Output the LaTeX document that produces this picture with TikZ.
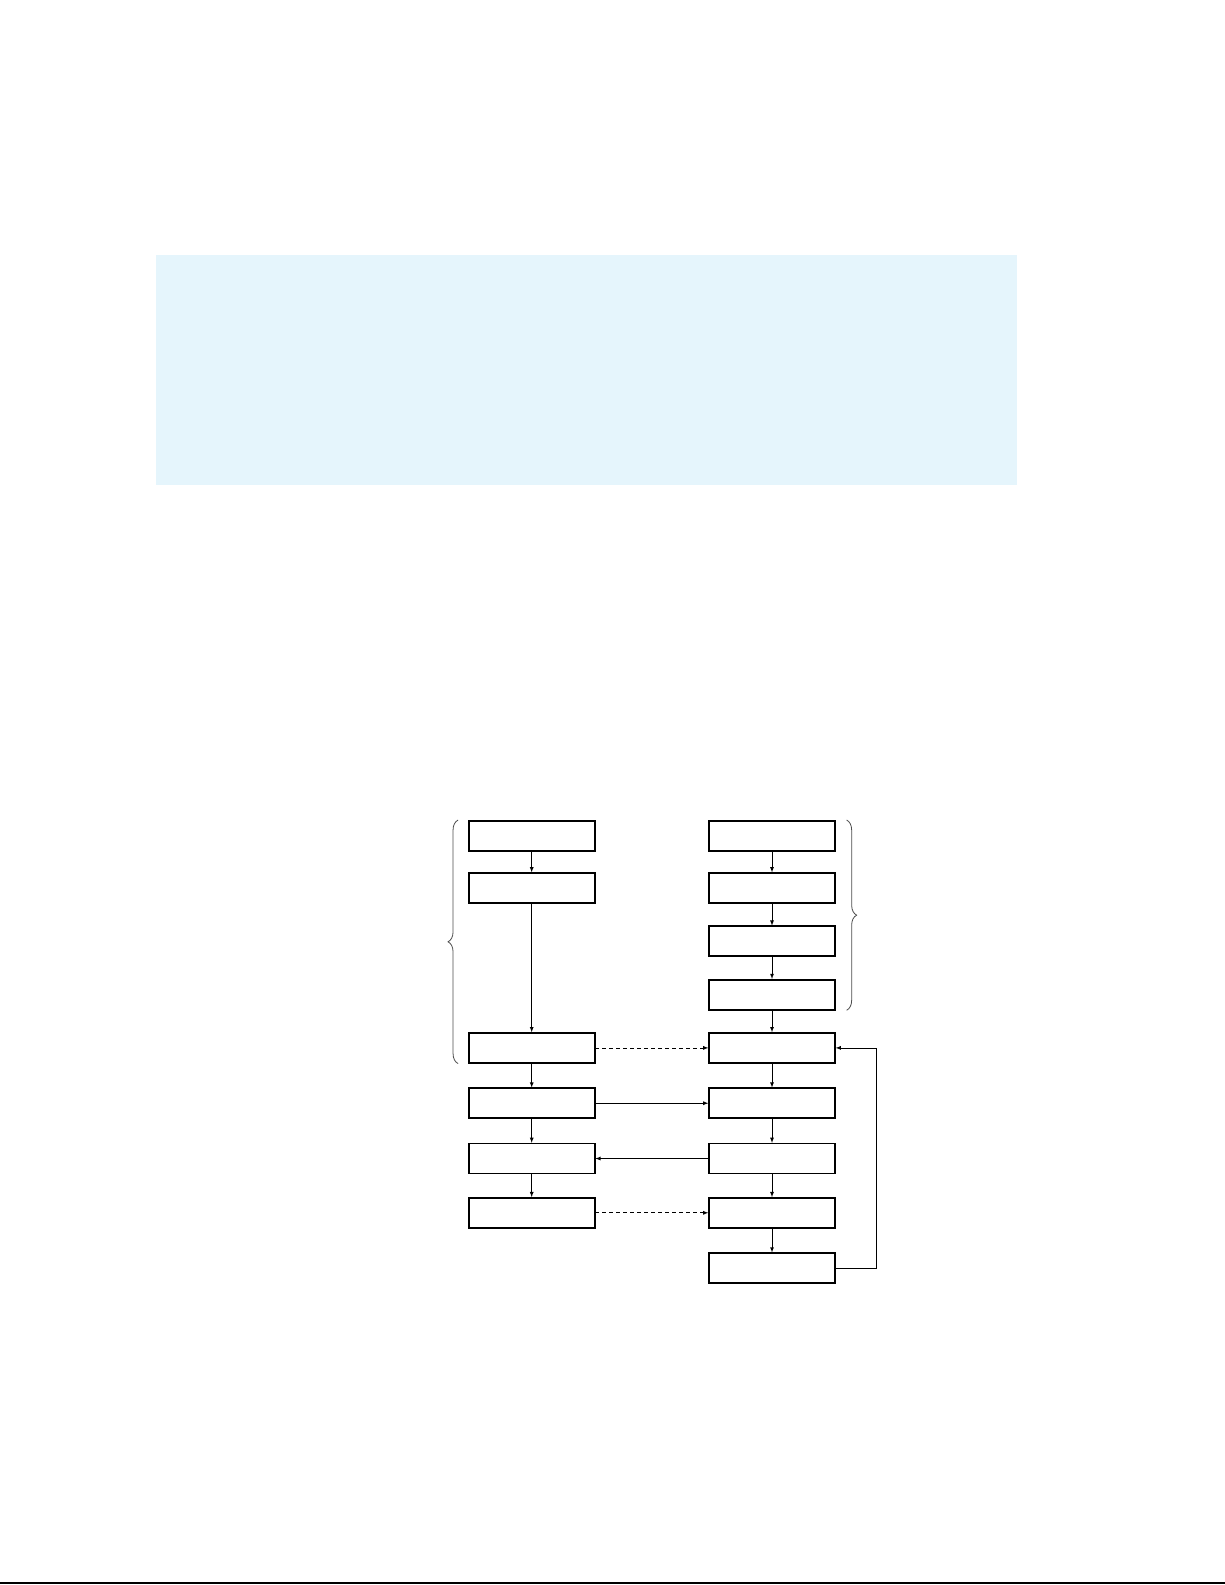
\documentclass[tikz,border=0pt]{standalone}
\usepackage{tikz}
\usetikzlibrary{arrows, positioning, decorations.pathreplacing}
\definecolor{paleblue}{RGB}{229,245,252}

\begin{document}
\begin{tikzpicture}[x=1pt,y=-1pt,->,>=latex,line width=0.8pt]

	\tikzset{node box/.style={rectangle, draw, -,
			line width=1.8pt, outer sep=0.65pt,
			minimum width=126pt, minimum height=30pt,
			inner sep=0pt}}
	\tikzset{node brace/.style={-, draw=black!70, line width=0.8pt,
			decorate, decoration={brace, amplitude=10pt}}}

	\useasboundingbox (0,0) rectangle (1225,1585);

	% pale panel at the top
	\fill[paleblue] (155.6,254.7) rectangle (1016.8,485.2);

	% right column
	\node[node box] (R1) at (772,835.7) {};
	\node[node box, below=21pt of R1] (R2) {};
	\node[node box, below=22pt of R2] (R3) {};
	\node[node box, below=22pt of R3] (R4) {};
	\node[node box, below=22pt of R4] (R5) {};
	\node[node box, below=24pt of R5] (R6) {};
	\node[node box, below=24pt of R6] (R7) {};
	\node[node box, below=23pt of R7] (R8) {};
	\node[node box, below=24pt of R8] (R9) {};

	% left column
	\node[node box, left=113pt of R1] (L1) {};
	\node[node box, below=21pt of L1] (L2) {};
	\node[node box, left=113pt of R5] (L3) {};
	\node[node box, left=113pt of R6] (L4) {};
	\node[node box, left=113pt of R7] (L5) {};
	\node[node box, left=113pt of R8] (L6) {};

	% braces
	\draw[node brace] ([xshift=-10pt]L3.south west) -- ([xshift=-10pt]L1.north west);
	\draw[node brace] ([xshift=11pt]R1.north east) -- ([xshift=11pt]R4.south east);

	% down the columns
	\foreach \a/\b in {L1/L2, L2/L3, L3/L4, L4/L5, L5/L6,
		R1/R2, R2/R3, R3/R4, R4/R5, R5/R6, R6/R7, R7/R8, R8/R9}
		\draw (\a) -- (\b);

	% across
	\draw[dash pattern=on 4pt off 3pt] (L3) -- (R5);
	\draw (L4) -- (R6);
	\draw (R7) -- (L5);
	\draw[dash pattern=on 4pt off 3pt] (L6) -- (R8);

	% back up
	\draw (R9.east) -- ++(41pt,0) |- (R5.east);

	\draw[-, line width=1.2pt] (0,1583) -- (1225,1583);
\end{tikzpicture}
\end{document}
